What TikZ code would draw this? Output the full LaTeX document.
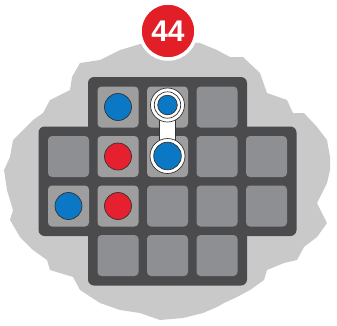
\documentclass[tikz,border=0pt]{standalone}
\usepackage{fontspec}
\setmainfont{Liberation Sans}
\definecolor{blobgray}{HTML}{C9C9C9}
\definecolor{boardgray}{HTML}{4B4B4D}
\definecolor{cellgray}{HTML}{8E8F93}
\definecolor{litgray}{HTML}{9E9E9F}
\definecolor{pieceblue}{HTML}{0B78C6}
\definecolor{piecered}{HTML}{E6202E}
\definecolor{badgered}{HTML}{E21F26}
\begin{document}
\begin{tikzpicture}[x=1bp,y=-1bp,
  cell/.style={fill=cellgray,rounded corners=4bp},
  litcell/.style={fill=litgray,rounded corners=4bp},
  board/.style={fill=boardgray,rounded corners=6bp},
  piece/.style={draw=black!80,line width=0.7bp},
  ring/.style={fill=white,draw=black!80,line width=0.7bp}]
  \useasboundingbox (0,0) rectangle (337,326);
  % background blob
  \fill[blobgray] (140,44) -- (127,48) -- (120,50) -- (100,60) -- (80,63) -- (72,77)
    -- (70,90) -- (50,100) -- (43,113) -- (33,120) -- (23,130) -- (13,140) -- (10,157)
    -- (4,170) -- (7,190) -- (13,210) -- (10,220) -- (20,237) -- (33,250) -- (47,260)
    -- (50,270) -- (73,277) -- (80,290) -- (100,303) -- (120,310) -- (140,313)
    -- (160,320) -- (183,318) -- (203,313) -- (217,307) -- (224,303) -- (237,297)
    -- (250,290) -- (264,280) -- (267,270) -- (284,263) -- (297,260) -- (304,247)
    -- (317,237) -- (327,223) -- (317,203) -- (327,183) -- (330,170) -- (330,157)
    -- (327,140) -- (317,127) -- (304,113) -- (293,113) -- (287,100) -- (267,93)
    -- (260,73) -- (243,57) -- (230,57) -- (217,50) -- (200,43) -- (168,40) -- cycle;
  % board
  \fill[board] (88,77) rectangle (247,285.5);
  \fill[board] (38.5,126.5) rectangle (296.5,236);
  % cells
  \foreach \c/\r in {4/1,1/2,4/2,5/2,3/3,4/3,5/3,2/4,3/4,4/4}
    \fill[cell] ({68.5+49.5*(\c-1)-20.5},{107+49.5*(\r-1)-20.5}) rectangle ++(41,41);
  \foreach \c/\r in {2/1,3/1,2/2,3/2,1/3,2/3}
    \fill[litcell] ({68.5+49.5*(\c-1)-20.5},{107+49.5*(\r-1)-20.5}) rectangle ++(41,41);
  % pieces
  \filldraw[piece,fill=pieceblue] (118,107) circle (13.5);
  \filldraw[piece,fill=piecered] (118,156.5) circle (13.5);
  \filldraw[piece,fill=piecered] (118,206) circle (13.5);
  \filldraw[piece,fill=pieceblue] (68.5,206) circle (13.5);
  % linked pair
  \filldraw[ring] (159.5,105) rectangle (175.5,156);
  \filldraw[ring] (167.5,105) circle (17);
  \draw[piece] (167.5,105) circle (13.2);
  \filldraw[piece,fill=pieceblue] (167.5,105) circle (9.8);
  \filldraw[ring] (167.5,156) circle (17.5);
  \filldraw[piece,fill=pieceblue] (167.5,156) circle (13.8);
  % badge
  \node (badge) [circle,fill=badgered,draw=white,line width=3.5bp,minimum size=56bp,
    inner sep=0pt,text=white,font=\fontsize{30}{30}\selectfont\bfseries] at (168,31) {44};
\end{tikzpicture}
\end{document}
